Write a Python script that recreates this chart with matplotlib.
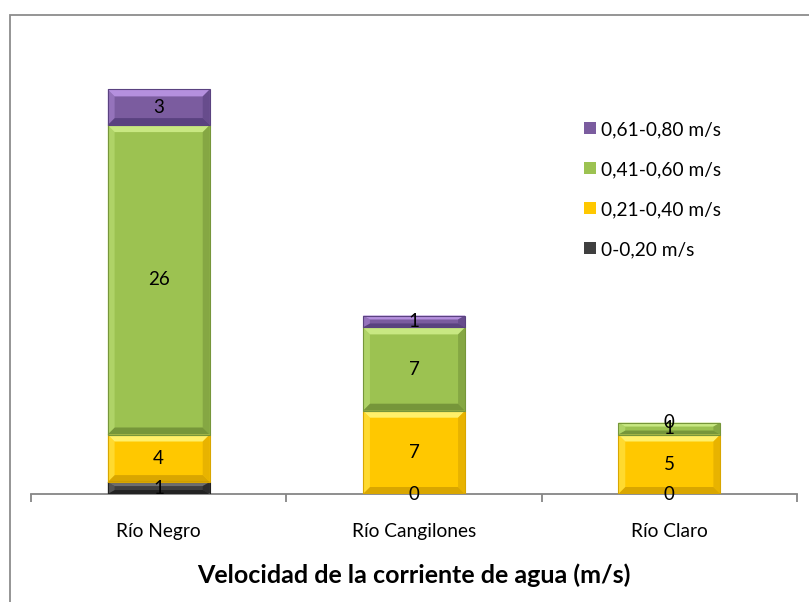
import matplotlib
matplotlib.use("Agg")
import matplotlib.pyplot as plt
import matplotlib.patches as mpatches
import numpy as np

plt.rcParams["font.family"] = ["Lato", "DejaVu Sans"]

# datos
rios = ["Río Negro", "Río Cangilones", "Río Claro"]
series = ["0-0,20 m/s", "0,21-0,40 m/s", "0,41-0,60 m/s", "0,61-0,80 m/s"]
v_0_020 = [1, 0, 0]
v_021_040 = [4, 7, 5]
v_041_060 = [26, 7, 1]
v_061_080 = [3, 1, 0]
valores = [v_0_020, v_021_040, v_041_060, v_061_080]

# colores (principal, claro arriba, oscuro abajo)
colores = [("#3f3f3f", "#6e6e6e", "#222222"),
           ("#ffc800", "#fff06a", "#d9a600"),
           ("#9cc251", "#c8e882", "#76963a"),
           ("#7b5c9f", "#b590de", "#5a4280")]

W, H = 809, 602
fig = plt.figure(figsize=(W / 100, H / 100), dpi=100)

# marco del grafico (recortado a la derecha y abajo)
fig.patches.append(mpatches.Rectangle((10 / W, -0.1), 1.2, 1.1 - 15 / H,
                                      transform=fig.transFigure, fill=False,
                                      edgecolor="#8c8c8c", linewidth=1.3))

ax_l, ax_r, ax_b = 31, 797, 108
ymax = 36
ppu = 11.9  # pixeles por unidad
ax = fig.add_axes([ax_l / W, ax_b / H, (ax_r - ax_l) / W, ymax * ppu / H])
ax.set_xlim(-0.5, 2.5)
ax.set_ylim(0, ymax)

x = np.arange(len(rios))
ancho = 0.40
bottom = np.zeros(len(rios))
px_x = 3.0 / (ax_r - ax_l)
px_y = 1.0 / ppu
bev = 7

barras = []
for vals, nombre, (c, cl, co) in zip(valores, series, colores):
    b = ax.bar(x, vals, ancho, bottom=bottom, color=c, label=nombre,
               edgecolor="none", zorder=2)
    barras.append(b)
    for p in b:
        x0, y0, w, h = p.get_x(), p.get_y(), p.get_width(), p.get_height()
        if h <= 0:
            continue
        dx = min(bev * px_x, w / 4)
        dy = min(bev * px_y, h / 3)
        x1, y1 = x0 + w, y0 + h
        # bisel superior, inferior y laterales
        ax.add_patch(mpatches.Polygon([(x0, y1), (x1, y1), (x1 - dx, y1 - dy), (x0 + dx, y1 - dy)],
                                      color=cl, lw=0, zorder=3))
        ax.add_patch(mpatches.Polygon([(x0, y0), (x1, y0), (x1 - dx, y0 + dy), (x0 + dx, y0 + dy)],
                                      color=co, lw=0, zorder=3))
        ax.add_patch(mpatches.Polygon([(x0, y0), (x0, y1), (x0 + dx, y1 - dy), (x0 + dx, y0 + dy)],
                                      color=cl, alpha=0.45, lw=0, zorder=3))
        ax.add_patch(mpatches.Polygon([(x1, y0), (x1, y1), (x1 - dx, y1 - dy), (x1 - dx, y0 + dy)],
                                      color=co, alpha=0.6, lw=0, zorder=3))
        ax.add_patch(mpatches.Rectangle((x0, y0), w, h, fill=False, edgecolor=co,
                                        lw=0.8, zorder=4))
    bottom += np.array(vals)

for b in barras:
    for t in ax.bar_label(b, label_type="center", fontsize=13.5, color="black"):
        t.set_zorder(6)

# ejes
for s in ["top", "right", "left"]:
    ax.spines[s].set_visible(False)
ax.spines["bottom"].set_color("#868686")
ax.spines["bottom"].set_linewidth(1.3)
ax.set_yticks([])
ax.set_xticks(x)
ax.set_xticklabels(rios, fontsize=13.8)
ax.set_xticks(np.arange(-0.5, 3, 1), minor=True)
ax.tick_params(axis="x", which="major", length=0, pad=21)
ax.tick_params(axis="x", which="minor", length=6, width=1.3, color="#868686")
ax.set_xlabel("Velocidad de la corriente de agua (m/s)", fontsize=18,
              fontweight="bold", labelpad=17)

# leyenda
h, l = ax.get_legend_handles_labels()
leg = ax.legend(h[::-1], l[::-1], loc="upper left", bbox_to_anchor=(584 / W, 1 - 121 / H),
                bbox_transform=fig.transFigure, frameon=False, fontsize=13.8,
                handlelength=0.62, handleheight=0.62, handletextpad=0.25,
                labelspacing=1.2, borderaxespad=0, borderpad=0)

fig.savefig("out.png", dpi=100)
